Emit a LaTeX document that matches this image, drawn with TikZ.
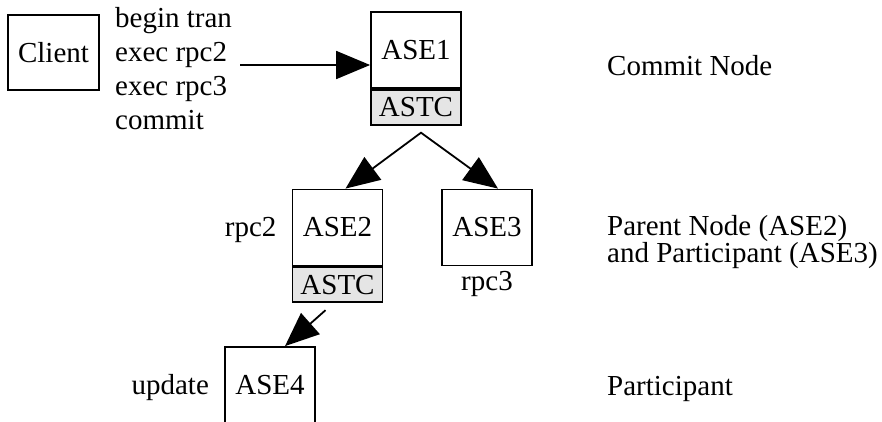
\documentclass[tikz,border=0pt]{standalone}
\usepackage{fontspec}
\setmainfont{Liberation Serif}
\usetikzlibrary{arrows.meta, positioning}

\tikzset{
	box/.style={draw, line width=1.8pt, minimum width=90pt, minimum height=76pt, inner sep=0pt},
	astc/.style={draw, line width=1.8pt, fill=black!10, minimum width=90pt, minimum height=35pt, inner sep=0pt},
	lbl/.style={inner sep=0pt, align=left},
	arr/.style={-{Triangle[length=34pt, width=28pt]}, line width=1.8pt},
	twoarr/.style={{Triangle[length=34pt, width=28pt]}-{Triangle[length=34pt, width=28pt]}, line width=1.8pt},
}

\begin{document}
\begin{tikzpicture}[x=1pt, y=-1pt, node distance=15pt, font=\fontsize{29}{34}\selectfont]
		\clip (0,0) rectangle (882,421);
		
		\node[box, minimum width=91pt, minimum height=75pt]  (client)  at (53.5,52.5)  {Client};
		\node[lbl, inner xsep=8pt, anchor=west]               (msgs)    at (107,69)    {begin tran\\exec rpc2\\exec rpc3\\commit};
		\node[box]                                            (ase1)    at (416,50)    {ASE1};
		\node[astc, below=0pt of ase1]                        (astc1)   {ASTC};
		\node[box]                                            (ase2)    at (337.5,227.5) {ASE2};
		\node[astc, below=0pt of ase2]                        (astc2)   {ASTC};
		\node[box]                                            (ase3)    at (487,227.5) {ASE3};
		\node[box]                                            (ase4)    at (270,385)   {ASE4};
		
		\node[lbl, base left=of ase2]                         (rpc2)    {rpc2};
		\node[lbl, below=5pt of ase3]                         (rpc3)    {rpc3};
		\node[lbl, base left=of ase4]                         (update)  {update};
		
		\node[lbl, anchor=base west]                          (commitnode) at (607,75)  {Commit Node};
		\node[lbl, anchor=north west, font=\fontsize{29}{22}\selectfont] (parentnode) at (607,215) {Parent Node (ASE2)\\and Participant (ASE3)};
		\node[lbl, anchor=base west]                          (participant) at (607,395) {Participant};
		
		\coordinate (req) at (0,65);
		\coordinate (fork) at ([xshift=5pt, yshift=-7pt]astc1.south);
		
		\draw[arr] (msgs.east |- req) -- (ase1.west |- req);
		\draw[twoarr] ([xshift=8pt]ase2.north) -- (fork) -- ([xshift=11pt]ase3.north);
		\draw[arr] ([xshift=-12pt, yshift=-7pt]astc2.south) -- ([xshift=15pt]ase4.north);
	\end{tikzpicture}
\end{document}
